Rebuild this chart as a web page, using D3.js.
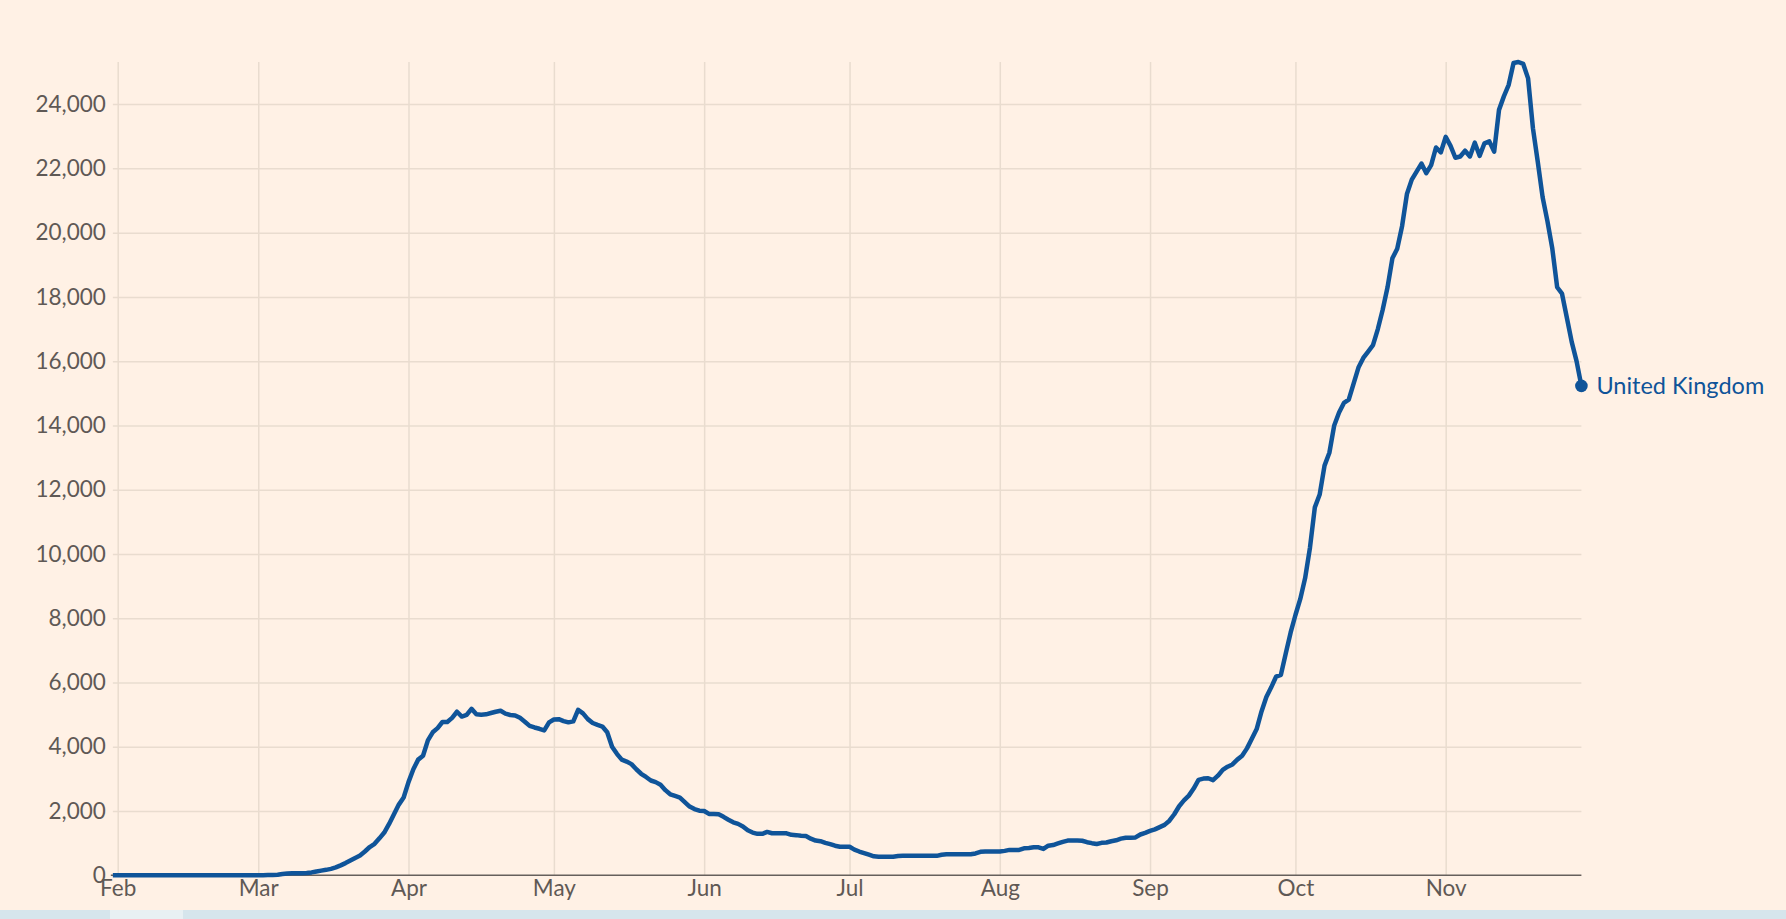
<!DOCTYPE html>
<html>
<head>
<meta charset="utf-8">
<script src="https://cdn.jsdelivr.net/npm/d3@7"></script>
<style>
  html, body { margin: 0; padding: 0; background: #fff1e5; overflow: hidden; }
  svg { display: block; }
  text { font-family: Lato, "Noto Sans", sans-serif; }
</style>
</head>
<body>
<svg id="chart" width="1786" height="919"></svg>
<script>
// ---- DATA (UK, daily values, 7-day average of new cases) ----
const seriesName = "United Kingdom";
const startDate = "2020-01-31"; // first value is for this day, one value per day after

const janFebCases = [0,
  0,0,0,0,0,0,0,0,0,0,0,0,0,0,0,0,0,0,0,0,0,0,0,0,0,0,0,0,0];
const marCases = [3,5,8,11,16,40,55,60,62,65,70,90,120,145,170,200,245,310,380,460,
  540,615,740,880,980,1150,1330,1600,1900,2200,2420];
const aprCases = [2900,3300,3600,3720,4200,4450,4580,4770,4770,4900,5090,4940,4990,5180,5010,
  5000,5010,5050,5090,5120,5030,4990,4975,4900,4780,4650,4600,4560,4510,4760];
const mayCases = [4850,4860,4800,4760,4790,5150,5040,4860,4740,4680,4630,4450,4000,3780,3600,
  3540,3460,3300,3160,3060,2950,2900,2820,2650,2520,2470,2420,2280,2140,2060,2010];
const junCases = [2000,1910,1910,1900,1820,1730,1650,1600,1520,1400,1330,1290,1290,1350,1310,
  1310,1310,1305,1260,1250,1230,1220,1140,1080,1060,1010,970,920,890,890];
const julCases = [890,800,740,690,640,590,580,580,580,580,600,605,605,605,605,605,605,605,605,640,
  655,655,655,655,655,655,680,730,740,740,740];
const augCases = [740,760,790,790,790,840,850,870,870,820,920,940,990,1040,1080,1080,1080,1075,
  1030,1000,975,1010,1020,1060,1090,1140,1170,1170,1180,1270,1320];
const sepCases = [1380,1430,1500,1570,1700,1900,2150,2330,2480,2700,2970,3010,3020,2960,3100,
  3280,3380,3450,3600,3720,3950,4250,4550,5100,5550,5850,6180,6240,6900,7550];
const octCases = [8100,8600,9250,10200,11450,11850,12750,13150,14000,14400,14700,14800,15300,
  15800,16100,16300,16500,17000,17600,18300,19200,19500,20200,21200,21650,21900,22150,21850,
  22100,22650,22500];
const novCases = [22980,22700,22330,22370,22550,22370,22800,22390,22780,22840,22520,23820,24240,
  24600,25280,25310,25250,24800,23250,22200,21100,20350,19500,18300,18100,17350,16600,16000,15230];

const monthTickDates = ["2020-02-01","2020-03-01","2020-04-01","2020-05-01","2020-06-01",
  "2020-07-01","2020-08-01","2020-09-01","2020-10-01","2020-11-01"];
const monthTickLabels = ["Feb","Mar","Apr","May","Jun","Jul","Aug","Sep","Oct","Nov"];
const yTickValues = [0,2000,4000,6000,8000,10000,12000,14000,16000,18000,20000,22000,24000];

// ---- BUILD ----
const parse = d3.utcParse("%Y-%m-%d");
const allCases = [].concat(janFebCases, marCases, aprCases, mayCases, junCases, julCases,
  augCases, sepCases, octCases, novCases);
const start = parse(startDate);
const data = allCases.map((v, i) => ({ date: d3.utcDay.offset(start, i), value: v }));

const W = 1786, H = 919;
const plot = { left: 112.85, right: 1581.4, top: 62, bottom: 875.3 };

const colors = {
  bg: "#fff1e5",
  grid: "#e9dccf",
  axis: "#66605c",
  text: "#5f5955",
  line: "#0f5499"
};

const svg = d3.select("#chart");
svg.append("rect").attr("width", W).attr("height", H).attr("fill", colors.bg);

const x = d3.scaleUtc()
  .domain([data[0].date, data[data.length - 1].date])
  .range([plot.left, plot.right]);
const y = d3.scaleLinear()
  .domain([0, d3.max(data, d => d.value)])
  .range([plot.bottom, plot.top]);

// horizontal gridlines + y labels
const yAxis = d3.axisLeft(y)
  .tickValues(yTickValues)
  .tickSize(-(plot.right - plot.left))
  .tickPadding(7)
  .tickFormat(d3.format(","));
const gy = svg.append("g")
  .attr("transform", `translate(${plot.left},0)`)
  .call(yAxis);
gy.select(".domain").remove();
gy.selectAll(".tick line").attr("stroke", colors.grid).attr("stroke-width", 1.5)
  .filter(d => d === 0).attr("stroke", "none");
gy.selectAll(".tick text")
  .attr("fill", colors.text)
  .attr("font-size", 22.5)
  .attr("font-family", "Lato, 'Noto Sans', sans-serif");

// vertical gridlines + x labels
const monthDates = monthTickDates.map(parse);
const xAxis = d3.axisBottom(x)
  .tickValues(monthDates)
  .tickSize(-(plot.bottom - plot.top))
  .tickPadding(7)
  .tickFormat((d, i) => monthTickLabels[i]);
const gx = svg.append("g")
  .attr("transform", `translate(0,${plot.bottom})`)
  .call(xAxis);
gx.select(".domain").remove();
gx.selectAll(".tick line").attr("stroke", colors.grid).attr("stroke-width", 1.5);
gx.selectAll(".tick text")
  .attr("fill", colors.text)
  .attr("font-size", 22.5)
  .attr("dy", "0.6em")
  .attr("font-family", "Lato, 'Noto Sans', sans-serif");

// baseline
svg.append("line")
  .attr("x1", x.range()[0] - 2).attr("x2", x.range()[1])
  .attr("y1", y(0)).attr("y2", y(0))
  .attr("stroke", colors.axis).attr("stroke-width", 1.5);

// series line
const line = d3.line().x(d => x(d.date)).y(d => y(d.value));
svg.append("path")
  .datum(data)
  .attr("fill", "none")
  .attr("stroke", colors.line)
  .attr("stroke-width", 4.5)
  .attr("stroke-linejoin", "round")
  .attr("stroke-linecap", "butt")
  .attr("d", line);

// end marker + label
const last = data[data.length - 1];
svg.append("circle")
  .attr("cx", x(last.date)).attr("cy", y(last.value))
  .attr("r", 6.3).attr("fill", colors.line);
svg.append("text")
  .attr("x", x(last.date) + 15).attr("y", y(last.value))
  .attr("dy", "0.35em")
  .attr("fill", colors.line)
  .attr("font-size", 23.5)
  .text(seriesName);

// bottom strip of the page
svg.append("rect").attr("x", 0).attr("y", 910).attr("width", W).attr("height", 9).attr("fill", "#d6e5ec");
svg.append("rect").attr("x", 110).attr("y", 910).attr("width", 73).attr("height", 9).attr("fill", "#e8f0f3");
</script>
</body>
</html>
